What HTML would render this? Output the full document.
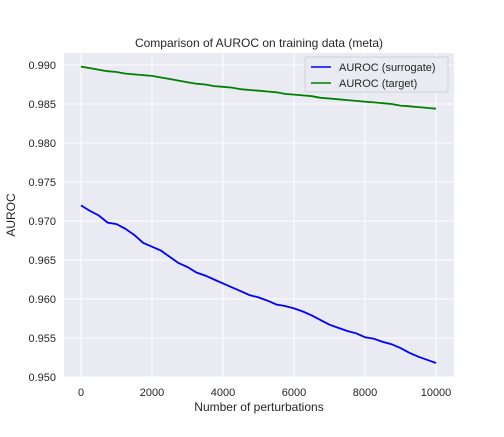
<!DOCTYPE html>
<html><head><meta charset="utf-8"><style>
body{margin:0;background:#fff;}
svg text{font-family:"Liberation Sans","DejaVu Sans",sans-serif;fill:#262626;}
</style></head><body>
<svg width="504" height="432" id="chart">
<rect x="64" y="53" width="390" height="324" fill="#eaeaf2"/>
<g id="grid"></g>
<g id="series"></g>
<text x="259" y="47" font-size="12" text-anchor="middle">Comparison of AUROC on training data (meta)</text>
<text x="259" y="411" font-size="12" text-anchor="middle">Number of perturbations</text>
<text x="15" y="215" font-size="12" text-anchor="middle" transform="rotate(-90 15 215)">AUROC</text>
<g>
<rect x="305" y="57" width="143" height="35" fill="#eaeaf2" stroke="#d0d0d8" rx="2"/>
<line x1="311" y1="67" x2="331" y2="67" stroke="#0000ff" stroke-width="1.5"/>
<text x="339" y="71" font-size="11">AUROC (surrogate)</text>
<line x1="311" y1="83" x2="331" y2="83" stroke="#008000" stroke-width="1.5"/>
<text x="339" y="87" font-size="11">AUROC (target)</text>
</g>
</svg>
<script>
const xValues=[0,250,500,750,1000,1250,1500,1750,2000,2250,2500,2750,3000,3250,3500,3750,4000,4250,4500,4750,5000,5250,5500,5750,6000,6250,6500,6750,7000,7250,7500,7750,8000,8250,8500,8750,9000,9250,9500,9750,10000];
const surrogate=[0.9720,0.9713,0.9707,0.9698,0.9696,0.9690,0.9682,0.9672,0.9667,0.9662,0.9654,0.9646,0.9641,0.9634,0.9630,0.9625,0.9620,0.9615,0.9610,0.9605,0.9602,0.9598,0.9593,0.9591,0.9588,0.9584,0.9579,0.9573,0.9567,0.9563,0.9559,0.9556,0.9551,0.9549,0.9545,0.9542,0.9537,0.9531,0.9526,0.9522,0.9518];
const target=[0.9898,0.9896,0.9894,0.9892,0.9891,0.9889,0.9888,0.9887,0.9886,0.9884,0.9882,0.9880,0.9878,0.9876,0.9875,0.9873,0.9872,0.9871,0.9869,0.9868,0.9867,0.9866,0.9865,0.9863,0.9862,0.9861,0.9860,0.9858,0.9857,0.9856,0.9855,0.9854,0.9853,0.9852,0.9851,0.9850,0.9848,0.9847,0.9846,0.9845,0.9844];
const xTicks=[0,2000,4000,6000,8000,10000];
const yTicks=[0.950,0.955,0.960,0.965,0.970,0.975,0.980,0.985,0.990];
const xs=v=>81+(v/10000)*355;
const ys=v=>377-(v-0.950)/0.040*312;
const NS="http://www.w3.org/2000/svg";
const grid=document.getElementById('grid'),ser=document.getElementById('series');
function mk(tag,attrs,parent){const e=document.createElementNS(NS,tag);for(const k in attrs)e.setAttribute(k,attrs[k]);parent.appendChild(e);return e;}
xTicks.forEach(t=>{
 const l=mk('line',{x1:xs(t),x2:xs(t),y1:53,y2:377,stroke:'#fff','stroke-width':1},grid);
 
 
 const tx=mk('text',{x:xs(t),y:396,'font-size':11,'text-anchor':'middle'},grid);tx.textContent=t;
 
 
});
yTicks.forEach(t=>{
 const l=mk('line',{x1:64,x2:454,y1:ys(t),y2:ys(t),stroke:'#fff','stroke-width':1},grid);
 
 
 const tx=mk('text',{x:56,y:ys(t)+4,'font-size':11,'text-anchor':'end'},grid);tx.textContent=t.toFixed(3);
 
 
});
function line(vals,color,name){
 const d=vals.map((v,i)=>(i?'L':'M')+xs(xValues[i]).toFixed(1)+','+ys(v).toFixed(1)).join('');
 const p=mk('path',{d:d,fill:'none',stroke:color,'stroke-width':1.8},ser);
 
 
}
line(target,'#008000','target-line');
line(surrogate,'#0000ff','surrogate-line');
</script>
</body></html>
